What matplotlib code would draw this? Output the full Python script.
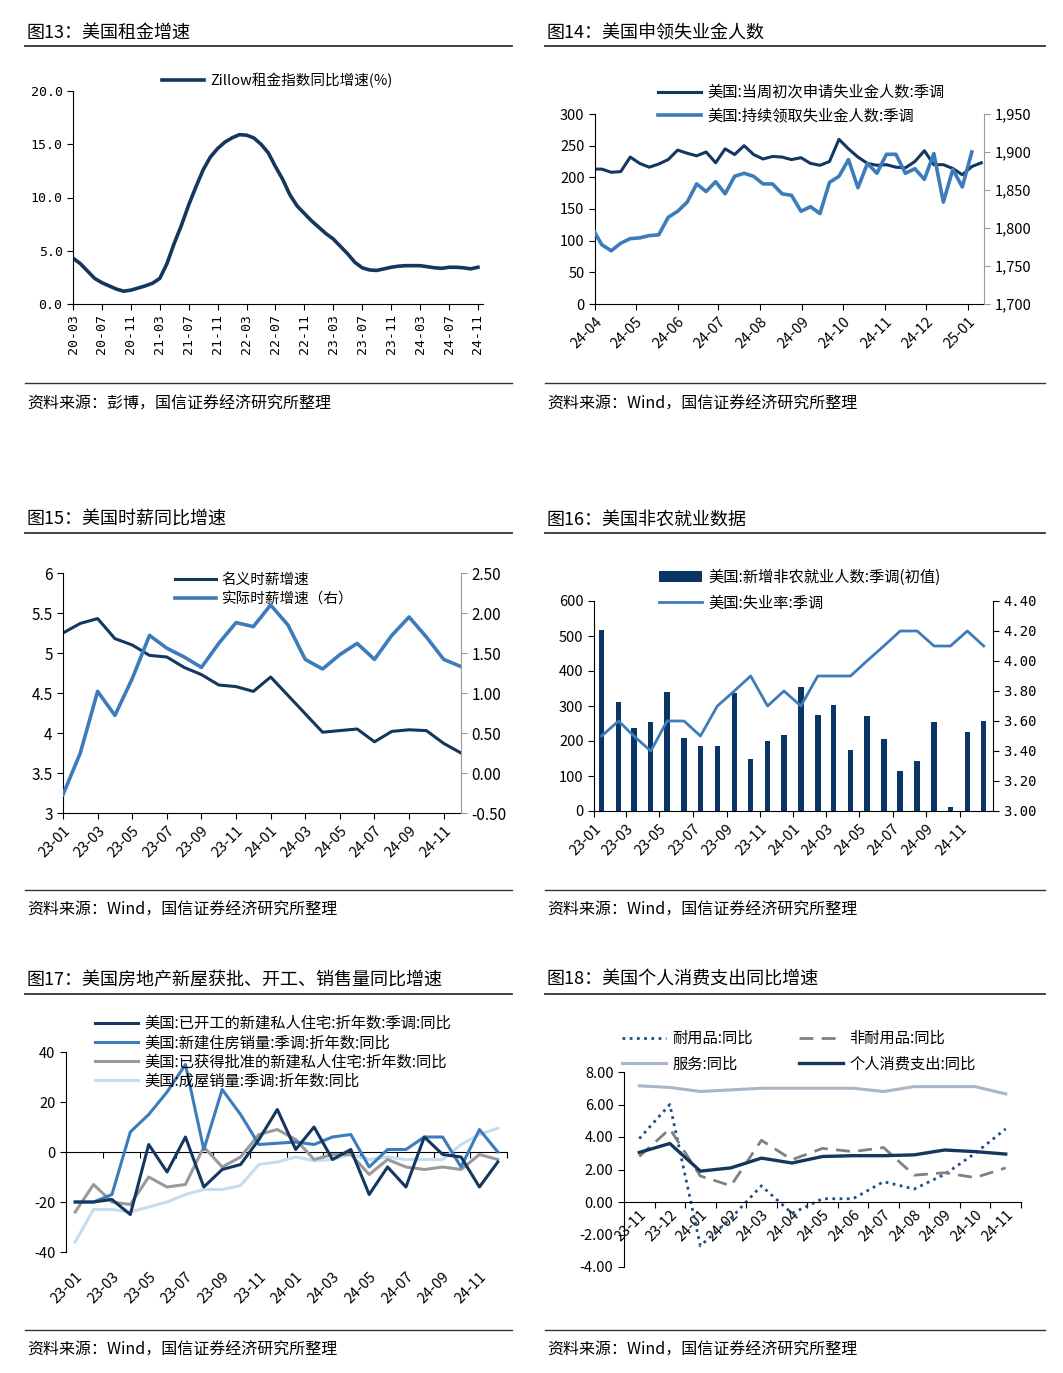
import numpy as np
import pandas as pd
import matplotlib
matplotlib.use('Agg')
import matplotlib.pyplot as plt
import matplotlib.dates as mdates
from matplotlib.lines import Line2D
from matplotlib.ticker import FormatStrFormatter, FuncFormatter

plt.rcParams['font.family'] = ['Noto Sans CJK SC', 'DejaVu Sans']
plt.rcParams['axes.unicode_minus'] = False

W, H = 1063, 1373

NAVY = '#14375f'
BLUE = '#3d7cba'
GRAY = '#9a9a9a'
LIGHT = '#c6dcef'
BAR = '#0b3564'

# ---- data ----
# fig 13: zillow rent index yoy, monthly 20-03 .. 24-11
rent_months = pd.period_range('2020-03', '2024-11', freq='M')
rent_yoy = [4.3, 3.8, 3.1, 2.4, 2.0, 1.7, 1.4, 1.2, 1.3, 1.5,
            1.7, 1.95, 2.4, 3.8, 5.7, 7.4, 9.3, 11.0, 12.6, 13.8, 14.6, 15.2,
            15.6, 15.9, 15.85, 15.6, 15.0, 14.2, 12.9, 11.7, 10.25, 9.2, 8.5, 7.8,
            7.2, 6.6, 6.1, 5.4, 4.7, 3.9, 3.4, 3.2, 3.15, 3.3, 3.45, 3.55,
            3.6, 3.6, 3.6, 3.5, 3.4, 3.35, 3.45, 3.45, 3.4, 3.3, 3.45]

# fig 14: weekly jobless claims (thousands)
init_dates = pd.date_range('2024-03-30', periods=42, freq='7D')
init_claims = [213, 213, 208, 209, 232, 222, 216, 221, 228, 243, 238, 234, 240, 223,
               245, 236, 250, 236, 229, 233, 232, 228, 231, 222, 219, 225, 260, 245,
               232, 222, 219, 220, 216, 215, 225, 242, 220, 220, 214, 204, 217, 223]
cont_dates = pd.date_range('2024-03-30', periods=41, freq='7D')
cont_claims = [1800, 1778, 1770, 1780, 1786, 1787, 1790, 1791, 1814, 1822, 1834, 1858,
               1848, 1861, 1845, 1868, 1872, 1868, 1858, 1858, 1845, 1843, 1822, 1828,
               1819, 1860, 1868, 1890, 1853, 1885, 1872, 1897, 1897, 1872, 1878, 1864,
               1898, 1834, 1877, 1854, 1900]

# fig 15: hourly earnings yoy, monthly 23-01 .. 24-12
wage_months = pd.period_range('2023-01', '2024-12', freq='M')
wage_nominal = [5.25, 5.37, 5.43, 5.18, 5.10, 4.97, 4.95, 4.82, 4.73, 4.60, 4.58, 4.52,
                4.70, 4.47, 4.24, 4.01, 4.03, 4.05, 3.89, 4.02, 4.04, 4.03, 3.87, 3.75]
wage_real = [-0.27, 0.25, 1.02, 0.72, 1.18, 1.72, 1.56, 1.45, 1.32, 1.62, 1.88, 1.83,
             2.10, 1.85, 1.42, 1.30, 1.48, 1.62, 1.42, 1.72, 1.95, 1.70, 1.42, 1.33]

# fig 16: nonfarm payrolls (thousands) and unemployment rate
nfp_months = pd.date_range('2023-01-01', periods=24, freq='MS')
nfp_new = [517, 311, 236, 253, 339, 209, 187, 187, 336, 150, 199, 216,
           353, 275, 303, 175, 272, 206, 114, 142, 254, 12, 227, 256]
unemp_rate = [3.5, 3.6, 3.5, 3.4, 3.6, 3.6, 3.5, 3.7, 3.8, 3.9, 3.7, 3.8,
              3.7, 3.9, 3.9, 3.9, 4.0, 4.1, 4.2, 4.2, 4.1, 4.1, 4.2, 4.1]

# fig 17: housing yoy, monthly 23-01 .. 24-12
house_labels = [p.strftime('%y-%m') for p in pd.period_range('2023-01', '2024-12', freq='M')]
house_starts = [-20, -20, -19, -25, 3, -8, 6, -14, -7, -5, 5, 17,
                1, 10, -3, 1, -17, -6, -14, 6, -1, -2, -14, -4]
new_home_sales = [-20, -20, -17, 8, 15, 24, 35, 1, 25, 15, 3, 3.5,
                  4, 3, 6, 7, -6, 1, 1, 6, 6, -6, 9, 0]
permits = [-24, -13, -20, -21, -10, -14, -13, 2, -6, -2, 7, 9,
           5, -3, -1, -1, -9, -3, -6, -7, -6, -7, -1, -3]
existing_sales = [-36, -23, -23, -24, -22, -20, -17, -15, -15, -13.4, -5, -4,
                  -2, -3.5, -3, -1, -3, -2, -3, -3, -3, 3, 7, 9.5]
house_names = ['美国:已开工的新建私人住宅:折年数:季调:同比',
               '美国:新建住房销量:季调:折年数:同比',
               '美国:已获得批准的新建私人住宅:折年数:同比',
               '美国:成屋销量:季调:折年数:同比']

# fig 18: personal consumption expenditure yoy
pce_labels = ['23-11', '23-12', '24-01', '24-02', '24-03', '24-04', '24-05',
              '24-06', '24-07', '24-08', '24-09', '24-10', '24-11']
pce_durable = [3.9, 6.0, -2.7, -1.0, 1.0, -0.7, 0.2, 0.2, 1.25, 0.8, 1.7, 3.0, 4.5]
pce_nondurable = [2.8, 4.5, 1.6, 1.0, 3.8, 2.6, 3.3, 3.1, 3.35, 1.65, 1.8, 1.5, 2.1]
pce_services = [7.15, 7.05, 6.8, 6.9, 7.0, 7.0, 7.0, 7.0, 6.8, 7.1, 7.1, 7.1, 6.65]
pce_total = [3.05, 3.6, 1.9, 2.1, 2.7, 2.4, 2.8, 2.85, 2.85, 2.9, 3.2, 3.1, 2.95]

fig = plt.figure(figsize=(W / 100, H / 100), dpi=100)


def fx(x):
    return x / W


def fy(y):
    return 1 - y / H


def px_axes(l, t, r, b):
    return fig.add_axes([fx(l), fy(b), (r - l) / W, (b - t) / H])


def frame(x0, x1, y_title, y_top, y_bot, y_src, title, source):
    # title, rule under it, rule above the source line, source
    fig.text(fx(x0 + 2), fy(y_title + 2), title, fontsize=13, va='center', ha='left')
    fig.add_artist(Line2D([fx(x0), fx(x1)], [fy(y_top)] * 2, color='#333333', lw=1.3))
    fig.add_artist(Line2D([fx(x0), fx(x1)], [fy(y_bot)] * 2, color='#333333', lw=1.0))
    fig.text(fx(x0 + 2), fy(y_src + 2), source, fontsize=11.5, va='center', ha='left')


def legend_at(ax, handles, labels, x, y, **kw):
    opts = dict(loc='upper left', bbox_to_anchor=(fx(x), fy(y)),
                bbox_transform=fig.transFigure, frameon=False, borderpad=0,
                borderaxespad=0, handlelength=2.8, handletextpad=0.4,
                labelspacing=0.35, fontsize=11)
    opts.update(kw)
    return ax.legend(handles, labels, **opts)


def clean(ax):
    ax.spines['top'].set_visible(False)
    ax.spines['right'].set_visible(False)
    ax.tick_params(direction='out', length=4, width=0.8, labelsize=10.5)


def rotate(ax, angle=45):
    for lab in ax.get_xticklabels():
        lab.set_rotation(angle)
        lab.set_ha('right')
        lab.set_rotation_mode('anchor')


src_wind = '资料来源：Wind，国信证券经济研究所整理'
frame(25, 512, 31, 46, 383, 402, '图13：美国租金增速', '资料来源：彭博，国信证券经济研究所整理')
frame(545, 1045, 31, 46, 383, 402, '图14：美国申领失业金人数', src_wind)
frame(25, 512, 518, 533, 890, 908, '图15：美国时薪同比增速', src_wind)
frame(545, 1045, 518, 533, 890, 908, '图16：美国非农就业数据', src_wind)
frame(25, 512, 978, 994, 1330, 1348, '图17：美国房地产新屋获批、开工、销售量同比增速', src_wind)
frame(545, 1045, 978, 994, 1330, 1348, '图18：美国个人消费支出同比增速', src_wind)

# ---- fig 13 ----
ax = px_axes(73, 91, 483, 304)
clean(ax)
xi = np.arange(len(rent_yoy))
ln, = ax.plot(xi, rent_yoy, color=NAVY, lw=2.6)
ax.set_xlim(0, len(rent_yoy) - 1 + 0.7)
ax.set_ylim(0, 20)
ax.set_yticks([0, 5, 10, 15, 20])
ax.yaxis.set_major_formatter(FormatStrFormatter('%.1f'))
ax.set_xticks(xi[::4])
ax.set_xticklabels([p.strftime('%y-%m') for p in rent_months[::4]], rotation=90)
for lab in ax.get_xticklabels() + ax.get_yticklabels():
    lab.set_family(['DejaVu Sans Mono'])
    lab.set_fontsize(9.5)
legend_at(ax, [ln], ['Zillow租金指数同比增速(%)'], 162, 73, handlelength=2.9, fontsize=10.5)

# ---- fig 14 ----
ax = px_axes(595, 114, 984, 304)
clean(ax)
l1, = ax.plot(init_dates, init_claims, color=NAVY, lw=2.2)
ax.set_ylim(0, 300)
ax.set_yticks(range(0, 301, 50))
ax.set_xlim(pd.Timestamp('2024-04-01'), pd.Timestamp('2025-01-13'))
ax.set_xticks(pd.date_range('2024-04-01', '2025-01-01', freq='MS'))
ax.xaxis.set_major_formatter(mdates.DateFormatter('%y-%m'))
rotate(ax)
ax2 = ax.twinx()
l2, = ax2.plot(cont_dates, cont_claims, color=BLUE, lw=2.6)
ax2.set_ylim(1700, 1950)
ax2.set_yticks(range(1700, 1951, 50))
ax2.yaxis.set_major_formatter(FuncFormatter(lambda v, p: f'{v:,.0f}'))
for s in ['top', 'left', 'bottom']:
    ax2.spines[s].set_visible(False)
ax2.spines['right'].set_color('#999999')
ax2.tick_params(direction='out', length=4, width=0.8, labelsize=10.5, color='#999999')
legend_at(ax2, [l1, l2], ['美国:当周初次申请失业金人数:季调', '美国:持续领取失业金人数:季调'],
          658, 84, labelspacing=0.44)

# ---- fig 15 ----
ax = px_axes(63, 573, 461, 813)
clean(ax)
xi = np.arange(len(wage_nominal))
l1, = ax.plot(xi, wage_nominal, color=NAVY, lw=2.2)
ax.set_xlim(0, len(wage_nominal) - 1)
ax.set_ylim(3, 6)
ax.set_yticks(np.arange(3, 6.01, 0.5))
ax.yaxis.set_major_formatter(FuncFormatter(lambda v, p: f'{v:g}'))
ax.set_xticks(xi[::2])
ax.set_xticklabels([p.strftime('%y-%m') for p in wage_months[::2]])
rotate(ax)
ax2 = ax.twinx()
l2, = ax2.plot(xi, wage_real, color=BLUE, lw=2.6)
ax2.set_ylim(-0.5, 2.5)
ax2.set_yticks(np.arange(-0.5, 2.51, 0.5))
ax2.yaxis.set_major_formatter(FormatStrFormatter('%.2f'))
for s in ['top', 'left', 'bottom']:
    ax2.spines[s].set_visible(False)
ax2.spines['right'].set_color('#999999')
ax2.tick_params(direction='out', length=4, width=0.8, labelsize=11, color='#999999')
ax.tick_params(axis='y', labelsize=11)
legend_at(ax2, [l1, l2], ['名义时薪增速', '实际时薪增速（右）'], 175, 573,
          fontsize=10.5, labelspacing=0.37)

# ---- fig 16 ----
ax = px_axes(594, 601, 993, 811)
clean(ax)
bar_x = nfp_months + pd.Timedelta(days=14)
bars = ax.bar(bar_x, nfp_new, width=10, color=BAR)
ax.set_ylim(0, 600)
ax.set_yticks(range(0, 601, 100))
ax.set_xlim(pd.Timestamp('2023-01-01'), pd.Timestamp('2025-01-01'))
ax.set_xticks(pd.date_range('2023-01-01', '2024-11-01', freq='2MS'))
ax.xaxis.set_major_formatter(mdates.DateFormatter('%y-%m'))
rotate(ax)
ax2 = ax.twinx()
l2, = ax2.plot(bar_x, unemp_rate, color=BLUE, lw=2.0)
ax2.set_ylim(3.0, 4.4)
ax2.set_yticks(np.arange(3.0, 4.41, 0.2))
ax2.yaxis.set_major_formatter(FormatStrFormatter('%.2f'))
for s in ['top', 'left', 'bottom']:
    ax2.spines[s].set_visible(False)
ax2.tick_params(direction='out', length=4, width=0.8, labelsize=10)
for lab in ax2.get_yticklabels():
    lab.set_family(['DejaVu Sans Mono'])
    lab.set_fontsize(10)
legend_at(ax2, [bars, l2], ['美国:新增非农就业人数:季调(初值)', '美国:失业率:季调'],
          659, 569, labelspacing=0.57)

# ---- fig 17 ----
ax = px_axes(66, 1052, 507, 1252)
clean(ax)
xi = np.arange(len(house_starts))
h4, = ax.plot(xi, existing_sales, color=LIGHT, lw=2.2, zorder=2)
h3, = ax.plot(xi, permits, color=GRAY, lw=2.2, zorder=3)
h2, = ax.plot(xi, new_home_sales, color=BLUE, lw=2.2, zorder=4)
h1, = ax.plot(xi, house_starts, color=NAVY, lw=2.2, zorder=5)
ax.set_xlim(-0.5, len(xi) - 0.5)
ax.set_ylim(-40, 40)
ax.set_yticks(range(-40, 41, 20))
ax.spines['bottom'].set_visible(False)
ax.set_xticks(xi[::2])
ax.set_xticklabels(house_labels[::2])
ax.tick_params(axis='x', length=0, pad=13)
rotate(ax)
# zero line carrying the category boundary ticks
zero = ax.secondary_xaxis(0, transform=ax.transData)
zero.set_xticks(np.arange(1.5, len(xi), 2))
zero.tick_params(direction='out', length=4, width=0.8, labelbottom=False)
legend_at(ax, [h1, h2, h3, h4], house_names, 95, 1015, labelspacing=0.14)

# ---- fig 18 ----
ax = px_axes(624, 1072, 1021, 1267)
clean(ax)
xi = np.arange(len(pce_total))
d1, = ax.plot(xi, pce_durable, color='#1f4e89', lw=2.0, ls=(0, (1, 1.6)))
d2, = ax.plot(xi, pce_nondurable, color='#808080', lw=2.0, ls=(0, (5, 3)))
d3, = ax.plot(xi, pce_services, color='#a8b6c6', lw=2.2)
d4, = ax.plot(xi, pce_total, color=NAVY, lw=2.4)
ax.set_xlim(-0.5, len(xi) - 0.5)
ax.set_ylim(-4, 8)
ax.set_yticks(range(-4, 9, 2))
ax.yaxis.set_major_formatter(FormatStrFormatter('%.2f'))
ax.spines['bottom'].set_position(('data', 0))
ax.set_xticks(np.arange(0.5, len(xi), 1))
ax.set_xticklabels([])
ax.set_xticks(xi, minor=True)
ax.set_xticklabels(pce_labels, minor=True)
ax.tick_params(axis='x', which='minor', length=0, pad=4, labelsize=10.5)
for lab in ax.get_xticklabels(minor=True):
    lab.set_rotation(45)
    lab.set_ha('right')
    lab.set_rotation_mode('anchor')
legend_at(ax, [d1, d3, d2, d4], ['耐用品:同比', '服务:同比', '非耐用品:同比', '个人消费支出:同比'],
          622, 1030, ncol=2, columnspacing=3.0, handlelength=2.9, labelspacing=0.57)

fig.savefig('out.png', dpi=100)
